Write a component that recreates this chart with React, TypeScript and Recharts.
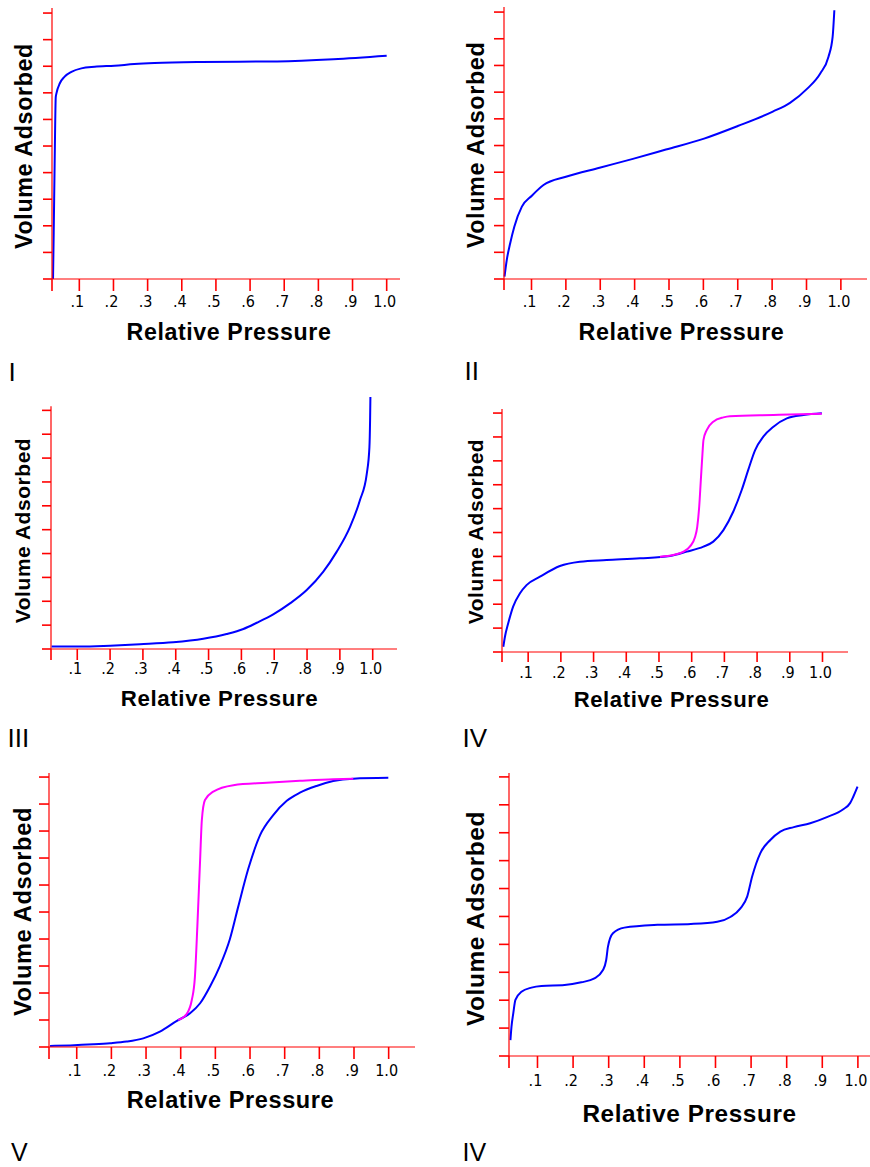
import React from 'react';
import { LineChart, Line, XAxis, YAxis, ReferenceLine } from 'recharts';

// ---------------- data ----------------
// relative pressure tick labels and volume tick marks
const X_TICKS = [0.1, 0.2, 0.3, 0.4, 0.5, 0.6, 0.7, 0.8, 0.9, 1.0];
const Y_TICKS = [0, 1, 2, 3, 4, 5, 6, 7, 8, 9, 10];
const X_START = 0.02;

const X_TITLE = 'Relative Pressure';
const Y_TITLE = 'Volume Adsorbed';

// Type I
const TYPE_I_P = [0.023, 0.025, 0.028, 0.031, 0.033, 0.043, 0.057, 0.077, 0.106, 0.145, 0.203, 0.261, 0.32, 0.456, 0.679, 0.844, 1.0];
const TYPE_I_V = [0, 1.73, 4.59, 6.84, 6.98, 7.36, 7.61, 7.79, 7.92, 7.98, 8.02, 8.08, 8.12, 8.16, 8.18, 8.26, 8.39];

// Type II
const TYPE_II_P = [0.0215, 0.028, 0.038, 0.05, 0.072, 0.101, 0.135, 0.2, 0.298, 0.395, 0.491, 0.602, 0.7, 0.802, 0.852, 0.903, 0.94, 0.964, 0.976, 0.981];
const TYPE_II_V = [0.09, 0.71, 1.34, 1.96, 2.71, 3.12, 3.52, 3.83, 4.17, 4.5, 4.85, 5.26, 5.73, 6.27, 6.6, 7.14, 7.7, 8.33, 9.07, 10.07];

// Type III
const TYPE_III_P = [0.022, 0.108, 0.2, 0.291, 0.392, 0.484, 0.555, 0.606, 0.647, 0.697, 0.748, 0.799, 0.849, 0.89, 0.931, 0.961, 0.982, 0.99, 0.992, 0.993];
const TYPE_III_V = [0.1, 0.1, 0.14, 0.2, 0.28, 0.43, 0.63, 0.84, 1.1, 1.45, 1.91, 2.47, 3.23, 4.07, 5.12, 6.23, 7.35, 8.46, 9.58, 10.56];

// Type IV (adsorption / desorption)
const TYPE_IV_ADS_P = [0.024, 0.029, 0.039, 0.054, 0.075, 0.095, 0.136, 0.197, 0.258, 0.34, 0.442, 0.534, 0.585, 0.636, 0.666, 0.697, 0.727, 0.753, 0.773, 0.794, 0.819, 0.85, 0.891, 0.942, 0.998];
const TYPE_IV_ADS_V = [0.22, 0.64, 1.2, 1.9, 2.46, 2.8, 3.15, 3.6, 3.78, 3.85, 3.92, 4.02, 4.2, 4.41, 4.62, 5.1, 5.87, 6.78, 7.62, 8.45, 9.01, 9.43, 9.78, 9.92, 9.99];
const TYPE_IV_DES_P = [0.503, 0.544, 0.575, 0.595, 0.61, 0.617, 0.623, 0.628, 0.633, 0.636, 0.646, 0.666, 0.697, 0.717, 0.85, 0.998];
const TYPE_IV_DES_V = [3.99, 4.06, 4.2, 4.42, 4.8, 5.24, 6.08, 7.2, 8.31, 8.87, 9.29, 9.64, 9.82, 9.87, 9.92, 9.97];

// Type V (adsorption / desorption)
const TYPE_V_ADS_P = [0.023, 0.081, 0.148, 0.196, 0.244, 0.292, 0.34, 0.389, 0.427, 0.456, 0.485, 0.513, 0.542, 0.566, 0.595, 0.629, 0.667, 0.706, 0.744, 0.792, 0.84, 0.898, 0.999];
const TYPE_V_ADS_V = [0.04, 0.06, 0.1, 0.14, 0.2, 0.32, 0.57, 0.97, 1.25, 1.62, 2.25, 3.0, 4.0, 5.2, 6.6, 7.85, 8.59, 9.12, 9.42, 9.67, 9.85, 9.94, 9.97];
const TYPE_V_DES_P = [0.393, 0.417, 0.432, 0.441, 0.448, 0.456, 0.461, 0.47, 0.494, 0.552, 0.648, 0.744, 0.84, 0.898];
const TYPE_V_DES_V = [1.0, 1.22, 1.74, 2.6, 4.46, 6.93, 8.41, 9.15, 9.46, 9.7, 9.79, 9.86, 9.92, 9.94];

// Type VI (stepwise)
const TYPE_VI_P = [0.024, 0.027, 0.032, 0.038, 0.055, 0.083, 0.111, 0.176, 0.223, 0.26, 0.284, 0.293, 0.298, 0.312, 0.344, 0.437, 0.531, 0.605, 0.643, 0.67, 0.689, 0.703, 0.726, 0.754, 0.782, 0.82, 0.866, 0.913, 0.959, 0.978, 0.987, 0.999];
const TYPE_VI_V = [0.57, 1.05, 1.53, 2.01, 2.3, 2.45, 2.51, 2.54, 2.64, 2.78, 3.08, 3.44, 3.92, 4.4, 4.6, 4.7, 4.73, 4.81, 4.99, 5.29, 5.71, 6.43, 7.27, 7.74, 8.04, 8.2, 8.34, 8.56, 8.84, 9.06, 9.29, 9.65];

// ---------------- styles ----------------
const BLUE = '#0000ff';
const MAGENTA = '#ff00ff';
const AXIS_RED = '#ff0000';
const TITLE_FONT = '"Liberation Sans", Arial, Helvetica, sans-serif';
const TICK_FONT = '"Liberation Sans Narrow", "DejaVu Sans Condensed", "Liberation Sans", Arial, sans-serif';

const zip = (p: number[], v: number[]) => p.map((x, i) => ({ x, y: v[i] }));

type Series = { data: { x: number; y: number }[]; color: string };
type Panel = {
  numeral: string;
  box: [number, number, number, number]; // left, top, width, height (page px)
  plot: [number, number, number, number]; // left, top, right, bottom (page px)
  xMax: number;
  yMax: number;
  yAxisTop?: number;
  xTickLen: number;
  xTickGap: number;
  yTickLen: number;
  xTitle: [number, number, number]; // centre x, baseline y, font size
  yTitle: [number, number, number]; // baseline x, centre y, font size
  num: [number, number, number]; // x, baseline, size
  series: Series[];
};

const PANELS: Panel[] = [
  {
    numeral: 'I', box: [0, 0, 435, 392], plot: [52, 8, 400, 279], xMax: 1.039, yMax: 10.19,
    xTickLen: 12, xTickGap: 5, yTickLen: 9, xTitle: [229, 340, 23.2], yTitle: [32, 146, 23.3], num: [8.5, 381, 26],
    series: [{ data: zip(TYPE_I_P, TYPE_I_V), color: BLUE }],
  },
  {
    numeral: 'II', box: [435, 0, 435, 392], plot: [504, 7, 867, 279], xMax: 1.076, yMax: 10.19,
    xTickLen: 11, xTickGap: 6, yTickLen: 10, xTitle: [681.5, 340, 23.3], yTitle: [484, 145, 23.4], num: [464.5, 380, 26],
    series: [{ data: zip(TYPE_II_P, TYPE_II_V), color: BLUE }],
  },
  {
    numeral: 'III', box: [0, 385, 435, 382], plot: [51, 397, 397, 649], xMax: 1.074, yMax: 10.56, yAxisTop: 10.17,
    xTickLen: 11, xTickGap: 3, yTickLen: 9, xTitle: [219.5, 706, 22.3], yTitle: [30, 530.5, 20.9], num: [7.5, 747, 26],
    series: [{ data: zip(TYPE_III_P, TYPE_III_V), color: BLUE }],
  },
  {
    numeral: 'IV', box: [435, 385, 435, 382], plot: [502, 409, 848, 652], xMax: 1.078, yMax: 10.17,
    xTickLen: 10, xTickGap: 5, yTickLen: 9, xTitle: [671.5, 707, 22.1], yTitle: [483, 531.5, 20.9], num: [462.5, 747, 26],
    series: [
      { data: zip(TYPE_IV_ADS_P, TYPE_IV_ADS_V), color: BLUE },
      { data: zip(TYPE_IV_DES_P, TYPE_IV_DES_V), color: MAGENTA },
    ],
  },
  {
    numeral: 'V', box: [0, 760, 435, 407], plot: [49, 773, 415, 1047], xMax: 1.076, yMax: 10.15,
    xTickLen: 12, xTickGap: 6, yTickLen: 10, xTitle: [230.5, 1108, 23.5], yTitle: [31, 911.5, 23.7], num: [11, 1161, 25],
    series: [
      { data: zip(TYPE_V_ADS_P, TYPE_V_ADS_V), color: BLUE },
      { data: zip(TYPE_V_DES_P, TYPE_V_DES_V), color: MAGENTA },
    ],
  },
  {
    numeral: 'IV', box: [435, 760, 435, 407], plot: [509, 773, 870, 1056], xMax: 1.034, yMax: 10.14,
    xTickLen: 12, xTickGap: 7, yTickLen: 10, xTitle: [689.5, 1122, 24.3], yTitle: [484, 918.5, 24.4], num: [462.5, 1161, 25],
    series: [{ data: zip(TYPE_VI_P, TYPE_VI_V), color: BLUE }],
  },
];

const fmtX = (v: number) => (v < 0.05 ? '' : v > 0.95 ? '1.0' : '.' + Math.round(v * 10));
const fmtNone = () => '';

function IsothermPanel({ p }: { p: Panel }) {
  const [bl, bt, bw, bh] = p.box;
  const [pl, pt, pr, pb] = p.plot;
  const xt = p.xTitle;
  const yt = p.yTitle;
  const yx = yt[0] - bl;
  const yy = yt[1] - bt;

  const xLabel = () => (
    <g>
      <text
        x={xt[0] - bl}
        y={xt[1] - bt}
        textAnchor="middle"
        fontFamily={TITLE_FONT}
        fontWeight="bold"
        fontSize={xt[2]}
        letterSpacing={0.6}
        fill="#000"
      >
        {X_TITLE}
      </text>
      <text x={p.num[0] - bl} y={p.num[1] - bt} fontFamily={TITLE_FONT} fontSize={p.num[2]} fill="#000">
        {p.numeral}
      </text>
    </g>
  );

  const yLabel = () => (
    <text
      x={yx}
      y={yy}
      transform={`rotate(-90 ${yx} ${yy})`}
      textAnchor="middle"
      fontFamily={TITLE_FONT}
      fontWeight="bold"
      fontSize={yt[2]}
      letterSpacing={0.6}
      fill="#000"
    >
      {Y_TITLE}
    </text>
  );

  return (
    <div style={{ position: 'absolute', left: bl, top: bt, width: bw, height: bh }}>
      <LineChart width={bw} height={bh} margin={{ top: pt - bt, right: bl + bw - pr, bottom: 0, left: 0 }}>
        <XAxis
          type="number"
          dataKey="x"
          domain={[X_START, p.xMax]}
          ticks={[X_START, ...X_TICKS]}
          interval={0}
          tickFormatter={fmtX}
          tickSize={p.xTickLen}
          tickMargin={p.xTickGap}
          height={bt + bh - pb}
          axisLine={{ stroke: AXIS_RED, strokeWidth: 1.2 }}
          tickLine={{ stroke: AXIS_RED, strokeWidth: 1.6 }}
          tick={{ fill: '#000', fontSize: 16, fontFamily: TICK_FONT, dx: -2 }}
          label={xLabel}
        />
        <YAxis
          type="number"
          domain={[0, p.yMax]}
          ticks={Y_TICKS}
          interval={0}
          tickFormatter={fmtNone}
          tick={{ fontSize: 1, fill: 'none' }}
          width={pl - bl}
          tickSize={p.yTickLen}
          tickMargin={0}
          axisLine={p.yAxisTop ? false : { stroke: AXIS_RED, strokeWidth: 1.2 }}
          tickLine={{ stroke: AXIS_RED, strokeWidth: 1.6 }}
          label={yLabel}
        />
        {p.yAxisTop ? (
          <ReferenceLine
            segment={[
              { x: X_START, y: 0 },
              { x: X_START, y: p.yAxisTop },
            ]}
            stroke={AXIS_RED}
            strokeWidth={1.2}
          />
        ) : null}
        {p.series.map((s, i) => (
          <Line
            key={i}
            data={s.data}
            dataKey="y"
            type="monotone"
            stroke={s.color}
            strokeWidth={2}
            dot={false}
            activeDot={false}
            isAnimationActive={false}
          />
        ))}
      </LineChart>
    </div>
  );
}

export default function App() {
  return (
    <div style={{ position: 'absolute', left: 0, top: 0, width: 870, height: 1167, background: '#fff', overflow: 'hidden' }}>
      {PANELS.map((p, i) => (
        <IsothermPanel key={i} p={p} />
      ))}
    </div>
  );
}
